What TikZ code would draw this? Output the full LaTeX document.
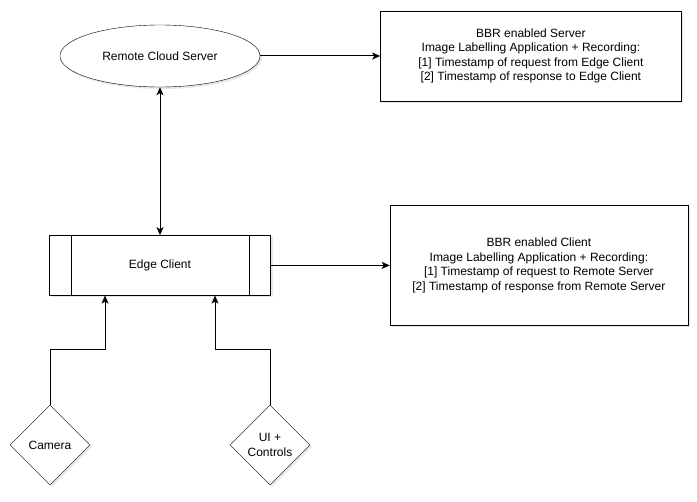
\documentclass[tikz,border=0pt]{standalone}
\usepackage{fontspec}
\setmainfont{Liberation Sans}
\usepackage{tikz}
\usetikzlibrary{arrows.meta,positioning,shapes.geometric,shadows}

\begin{document}
\begin{tikzpicture}[
  x=1pt, y=-1pt,
  font=\fontsize{12}{14.4}\selectfont,
  softshadow/.style={drop shadow={opacity=0.18, shadow xshift=2pt, shadow yshift=-2pt}},
  cloud/.style={ellipse, draw, fill=white, softshadow, minimum width=200pt, minimum height=62pt, inner sep=0pt},
  notebox/.style={rectangle, draw, fill=white, softshadow, align=center, inner sep=0pt},
  procbox/.style={rectangle, draw, fill=white, softshadow, minimum width=221pt, minimum height=60pt, inner sep=0pt},
  device/.style={diamond, draw, fill=white, softshadow, minimum width=80pt, minimum height=80pt, inner sep=0pt, align=center},
  arr/.style={-{Stealth[length=8pt, width=7pt, inset=2pt]}, line width=1pt},
  dblarr/.style={{Stealth[length=8pt, width=7pt, inset=2pt]}-{Stealth[length=8pt, width=7pt, inset=2pt]}, line width=1pt}
]
\fill[white] (0,0) rectangle (697,502);
\useasboundingbox (0,0) rectangle (697,502);

\node[cloud] (remote) at (160,56) {Remote Cloud Server};
\node[notebox, minimum width=301pt, minimum height=90pt, right=120pt of remote] (srvnote)
  {BBR enabled Server\\Image Labelling Application + Recording:\\{[1]} Timestamp of request from Edge Client\\{[2]} Timestamp of response to Edge Client};
\node[procbox, below=148pt of remote] (edge) {Edge Client};
\node[notebox, minimum width=298pt, minimum height=120pt, right=119pt of edge] (clinote)
  {BBR enabled Client\\Image Labelling Application + Recording:\\{[1]} Timestamp of request to Remote Server\\{[2]} Timestamp of response from Remote Server};
\node[device] (cam) at (50,445) {Camera};
\node[device] (ui) at (270,445) {UI +\\Controls};

\draw ([xshift=22pt]edge.north west) -- ([xshift=22pt]edge.south west);
\draw ([xshift=-22pt]edge.north east) -- ([xshift=-22pt]edge.south east);

\draw[arr] (remote) -- (srvnote);
\draw[dblarr] (remote) -- (edge);
\draw[arr] (edge) -- (clinote);
\draw[arr] (cam.north) -- ++(0,-55) -| ([xshift=-55pt]edge.south);
\draw[arr] (ui.north) -- ++(0,-55) -| ([xshift=55pt]edge.south);
\end{tikzpicture}
\end{document}
